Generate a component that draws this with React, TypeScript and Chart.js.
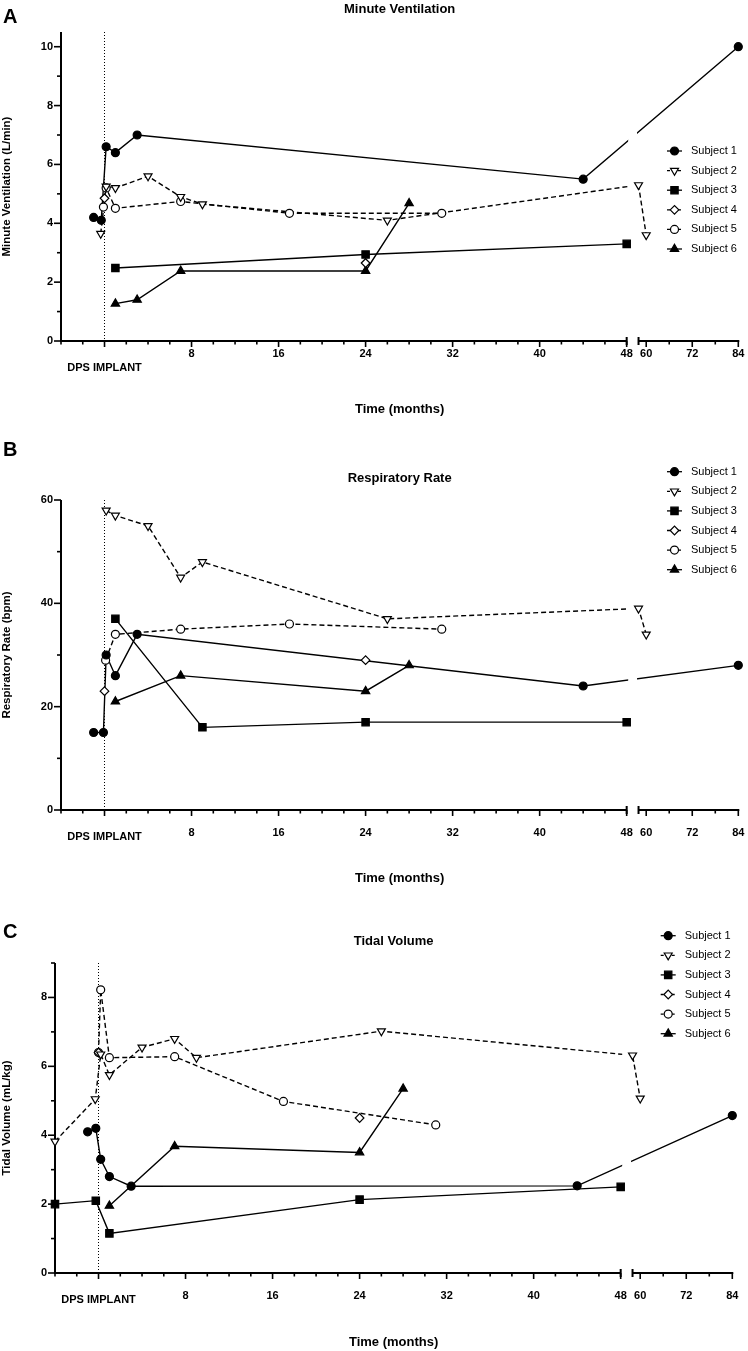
import { useEffect, useRef } from "react";
import { Chart, LinearScale, registerables } from "chart.js";
import { drawPoint } from "chart.js/helpers";

// ---- data (months after DPS implant) ----

// A: minute ventilation (L/min)
const mvS1Months = [-1, -0.3, 0.15, 1, 3, 44, 84];
const mvS1Values = [4.2, 4.1, 6.6, 6.4, 7.0, 5.5, 10.0];
const mvS2Months = [-0.35, 0.15, 1, 4, 7, 9, 26, 58, 60];
const mvS2Values = [3.65, 5.25, 5.2, 5.6, 4.9, 4.65, 4.1, 5.3, 3.6];
const mvS3Months = [1, 24, 48];
const mvS3Values = [2.48, 2.94, 3.3];
const mvS4Months = [0, 24];
const mvS4Values = [4.85, 2.65];
const mvS5Months = [-0.1, 0.15, 1, 7, 17, 31];
const mvS5Values = [4.55, 5.2, 4.51, 4.74, 4.34, 4.34];
const mvS6Months = [1, 3, 7, 24, 28];
const mvS6Values = [1.27, 1.4, 2.38, 2.38, 4.68];

// B: respiratory rate (bpm)
const rrS1Months = [-1, -0.1, 0.15, 1, 3, 44, 84];
const rrS1Values = [15, 15, 30, 26, 34, 24, 28];
const rrS2Months = [0.15, 1, 4, 7, 9, 26, 58, 60];
const rrS2Values = [58, 57, 55, 45, 48, 37, 39, 34];
const rrS3Months = [1, 9, 24, 48];
const rrS3Values = [37, 16, 17, 17];
const rrS4Months = [0, 24];
const rrS4Values = [23, 29];
const rrS5Months = [0.1, 1, 7, 17, 31];
const rrS5Values = [29, 34, 35, 36, 35];
const rrS6Months = [1, 7, 24, 28];
const rrS6Values = [21, 26, 23, 28];

// C: tidal volume (mL/kg)
const tvS1Months = [-1, -0.25, 0.2, 1, 3, 44, 84];
const tvS1Values = [4.1, 4.2, 3.3, 2.8, 2.52, 2.53, 4.57];
const tvS2Months = [-4, -0.3, 0.2, 1, 4, 7, 9, 26, 58, 60];
const tvS2Values = [3.82, 5.05, 6.35, 5.75, 6.55, 6.8, 6.25, 7.02, 6.32, 5.07];
const tvS3Months = [-4, -0.25, 1, 24, 48];
const tvS3Values = [2.0, 2.1, 1.15, 2.13, 2.5];
const tvS4Months = [0, 24];
const tvS4Values = [6.4, 4.5];
const tvS5Months = [0, 0.2, 1, 7, 17, 31];
const tvS5Values = [6.4, 8.22, 6.25, 6.28, 4.98, 4.3];
const tvS6Months = [1, 7, 24, 28];
const tvS6Values = [1.95, 3.68, 3.5, 5.35];

const subjectNames = ["Subject 1", "Subject 2", "Subject 3", "Subject 4", "Subject 5", "Subject 6"];
const subjectConnected = [true, true, true, false, true, true];

// x axis ticks (broken axis: -4..48 | 58..84)
const monthTicks = [
  -4, -2, 0, 2, 4, 6, 8, 10, 12, 14, 16, 18, 20, 22, 24, 26, 28, 30, 32, 34, 36, 38, 40, 42, 44, 46, 48,
  60, 66, 72, 78, 84,
];
const monthLabels = [8, 16, 24, 32, 40, 48, 60, 72, 84];
const monthMajor = [0, 8, 16, 24, 32, 40, 48, 60, 72, 84];

const mvTicks = [0, 1, 2, 3, 4, 5, 6, 7, 8, 9, 10];
const mvLabels = [0, 2, 4, 6, 8, 10];
const rrTicks = [0, 10, 20, 30, 40, 50, 60];
const rrLabels = [0, 20, 40, 60];
const tvTicks = [0, 1, 2, 3, 4, 5, 6, 7, 8, 9];
const tvLabels = [0, 2, 4, 6, 8];

// ---- broken x scale ----
const X_MIN = -4;
const X_MAX = 84;
const LEFT_END = 48;
const RIGHT_START = 58;
const LEFT_SHARE = 0.8352;
const GAP_SHARE = 0.0175;

class BrokenLinearScale extends LinearScale {
  static id = "brokenLinear";
  static defaults = {};

  toDecimal(v: number) {
    const min = this.min;
    const max = this.max;
    if (v <= LEFT_END) return ((v - min) / (LEFT_END - min)) * LEFT_SHARE;
    if (v >= RIGHT_START)
      return LEFT_SHARE + GAP_SHARE + ((v - RIGHT_START) / (max - RIGHT_START)) * (1 - LEFT_SHARE - GAP_SHARE);
    return LEFT_SHARE + ((v - LEFT_END) / (RIGHT_START - LEFT_END)) * GAP_SHARE;
  }

  getPixelForValue(value: number) {
    if (value === null || value === undefined || Number.isNaN(value)) return NaN;
    return this.getPixelForDecimal(this.toDecimal(value));
  }

  getValueForPixel(pixel: number) {
    const d = this.getDecimalForPixel(pixel);
    const min = this.min;
    const max = this.max;
    if (d <= LEFT_SHARE) return min + (d / LEFT_SHARE) * (LEFT_END - min);
    if (d >= LEFT_SHARE + GAP_SHARE)
      return RIGHT_START + ((d - LEFT_SHARE - GAP_SHARE) / (1 - LEFT_SHARE - GAP_SHARE)) * (max - RIGHT_START);
    return LEFT_END + ((d - LEFT_SHARE) / GAP_SHARE) * (RIGHT_START - LEFT_END);
  }
}

Chart.register(...registerables, BrokenLinearScale);

const FONT = "'Liberation Sans', Arial, Helvetica, sans-serif";
Chart.defaults.font.family = FONT;
Chart.defaults.color = "#000";

const MARKERS = [
  { style: "circle", radius: 4, rotation: 0, filled: true, dashed: false },
  { style: "triangle", radius: 4.6, rotation: 180, filled: false, dashed: true },
  { style: "rect", radius: 5.2, rotation: 0, filled: true, dashed: false },
  { style: "rectRot", radius: 4.3, rotation: 0, filled: false, dashed: true },
  { style: "circle", radius: 4, rotation: 0, filled: false, dashed: true },
  { style: "triangle", radius: 4.8, rotation: 0, filled: true, dashed: false },
];

type Series = { months: number[]; values: number[] };

type Panel = {
  key: string;
  letter: string;
  title: string;
  yTitle: string;
  yMax: number;
  yTicks: number[];
  yLabels: number[];
  series: Series[];
  height: number;
  yAxisWidth: number;
  rightPad: number;
  titlePad: { top: number; bottom: number };
  xAxisHeight: number;
  xTitlePad: number;
  xLabelLine: string;
  letterBaseline: number;
  legendX: number;
  legendY: number;
};

const PANELS: Panel[] = [
  {
    key: "mv",
    letter: "A",
    title: "Minute Ventilation",
    yTitle: "Minute Ventilation (L/min)",
    yMax: 10.5,
    yTicks: mvTicks,
    yLabels: mvLabels,
    series: [
      { months: mvS1Months, values: mvS1Values },
      { months: mvS2Months, values: mvS2Values },
      { months: mvS3Months, values: mvS3Values },
      { months: mvS4Months, values: mvS4Values },
      { months: mvS5Months, values: mvS5Values },
      { months: mvS6Months, values: mvS6Values },
    ],
    height: 440,
    yAxisWidth: 61,
    rightPad: 9.7,
    titlePad: { top: 1.2, bottom: 15.2 },
    xAxisHeight: 99,
    xTitlePad: 23.2,
    xLabelLine: "26px",
    letterBaseline: 23,
    legendX: 667,
    legendY: 151,
  },
  {
    key: "rr",
    letter: "B",
    title: "Respiratory Rate",
    yTitle: "Respiratory Rate (bpm)",
    yMax: 60,
    yTicks: rrTicks,
    yLabels: rrLabels,
    series: [
      { months: rrS1Months, values: rrS1Values },
      { months: rrS2Months, values: rrS2Values },
      { months: rrS3Months, values: rrS3Values },
      { months: rrS4Months, values: rrS4Values },
      { months: rrS5Months, values: rrS5Values },
      { months: rrS6Months, values: rrS6Values },
    ],
    height: 450,
    yAxisWidth: 61,
    rightPad: 9.7,
    titlePad: { top: 30.2, bottom: 14.2 },
    xAxisHeight: 80,
    xTitlePad: 4.2,
    xLabelLine: "45px",
    letterBaseline: 15.5,
    legendX: 667,
    legendY: 31.7,
  },
  {
    key: "tv",
    letter: "C",
    title: "Tidal Volume",
    yTitle: "Tidal Volume (mL/kg)",
    yMax: 9,
    yTicks: tvTicks,
    yLabels: tvLabels,
    series: [
      { months: tvS1Months, values: tvS1Values },
      { months: tvS2Months, values: tvS2Values },
      { months: tvS3Months, values: tvS3Values },
      { months: tvS4Months, values: tvS4Values },
      { months: tvS5Months, values: tvS5Values },
      { months: tvS6Months, values: tvS6Values },
    ],
    height: 461,
    yAxisWidth: 55,
    rightPad: 15.7,
    titlePad: { top: 43.9, bottom: 13.5 },
    xAxisHeight: 78,
    xTitlePad: 1.2,
    xLabelLine: "45px",
    letterBaseline: 48.3,
    legendX: 660.7,
    legendY: 45.7,
  },
];

const LEGEND_STEP = 19.6;
const DPS_OFFSET = 26.5;

// axes with the break, implant line, gap through the data lines, legend and panel letter
const makeDecor = (p: Panel) => {
  let gapDone = false;
  return {
    id: "panelDecor",
    beforeDatasetsDraw(chart: any) {
      gapDone = false;
      const { ctx, chartArea } = chart;
      const xs = chart.scales.x;
      const ys = chart.scales.y;
      const bottom = chartArea.bottom;
      const left = chartArea.left;
      ctx.save();

      // dotted DPS implant line
      ctx.strokeStyle = "#000";
      ctx.lineWidth = 1;
      ctx.setLineDash([1, 2]);
      ctx.beginPath();
      ctx.moveTo(xs.getPixelForValue(0), chartArea.top);
      ctx.lineTo(xs.getPixelForValue(0), bottom);
      ctx.stroke();
      ctx.setLineDash([]);

      // y axis
      ctx.lineWidth = 2;
      ctx.beginPath();
      ctx.moveTo(left, chartArea.top);
      ctx.lineTo(left, bottom + 1);
      ctx.stroke();
      ctx.lineWidth = 1.6;
      p.yTicks.forEach((v) => {
        const y = ys.getPixelForValue(v);
        const len = p.yLabels.includes(v) ? 7 : 4;
        ctx.beginPath();
        ctx.moveTo(left, y);
        ctx.lineTo(left - len, y);
        ctx.stroke();
      });

      // x axis, two pieces
      const xEnd = xs.getPixelForValue(LEFT_END);
      const xStart = xs.getPixelForValue(RIGHT_START);
      ctx.lineWidth = 2;
      ctx.beginPath();
      ctx.moveTo(left - 1, bottom);
      ctx.lineTo(xEnd, bottom);
      ctx.moveTo(xStart, bottom);
      ctx.lineTo(xs.getPixelForValue(X_MAX) + 1, bottom);
      ctx.stroke();
      ctx.beginPath();
      ctx.moveTo(xEnd, bottom - 4);
      ctx.lineTo(xEnd, bottom + 4);
      ctx.moveTo(xStart, bottom - 4);
      ctx.lineTo(xStart, bottom + 4);
      ctx.stroke();
      ctx.lineWidth = 1.6;
      monthTicks.forEach((v) => {
        const x = xs.getPixelForValue(v);
        const len = monthMajor.includes(v) ? 6 : 3.5;
        ctx.beginPath();
        ctx.moveTo(x, bottom);
        ctx.lineTo(x, bottom + len);
        ctx.stroke();
      });
      ctx.restore();
    },
    beforeDatasetDraw(chart: any, args: any) {
      const ds = chart.data.datasets[args.index];
      if (ds.kind !== "points" || gapDone) return;
      gapDone = true;
      const { ctx, chartArea } = chart;
      const xs = chart.scales.x;
      const x0 = xs.getPixelForValue(LEFT_END) + 1.5;
      const x1 = xs.getPixelForValue(RIGHT_START) - 1.5;
      ctx.save();
      ctx.fillStyle = "#fff";
      ctx.fillRect(x0, chartArea.top - 6, x1 - x0, chartArea.bottom - chartArea.top + 4);
      ctx.restore();
    },
    afterDraw(chart: any) {
      const { ctx, chartArea } = chart;
      const xs = chart.scales.x;
      ctx.save();
      ctx.fillStyle = "#000";

      ctx.font = `bold 20px ${FONT}`;
      ctx.textAlign = "left";
      ctx.textBaseline = "alphabetic";
      ctx.fillText(p.letter, 3, p.letterBaseline);

      ctx.font = `bold 11px ${FONT}`;
      ctx.textAlign = "center";
      ctx.textBaseline = "middle";
      ctx.fillText("DPS IMPLANT", xs.getPixelForValue(0), chartArea.bottom + DPS_OFFSET);

      subjectNames.forEach((name, i) => {
        const m = MARKERS[i];
        const y = p.legendY + i * LEGEND_STEP;
        ctx.strokeStyle = "#000";
        ctx.lineWidth = 1.3;
        ctx.setLineDash(m.dashed ? [3, 2.5] : []);
        ctx.beginPath();
        ctx.moveTo(p.legendX, y);
        ctx.lineTo(p.legendX + 15, y);
        ctx.stroke();
        ctx.setLineDash([]);
        ctx.fillStyle = m.filled ? "#000" : "#fff";
        ctx.lineWidth = 1.2;
        drawPoint(ctx, { pointStyle: m.style, radius: m.radius, rotation: m.rotation, borderWidth: 1.2 } as any, p.legendX + 7.5, y);
        ctx.fillStyle = "#000";
        ctx.font = `11px ${FONT}`;
        ctx.textAlign = "left";
        ctx.textBaseline = "middle";
        ctx.fillText(name, p.legendX + 24, y);
      });
      ctx.restore();
    },
  };
};

const buildDatasets = (p: Panel) => {
  const points = p.series.map((s, i) => {
    const m = MARKERS[i];
    return {
      kind: "points",
      label: subjectNames[i],
      data: s.months.map((x, j) => ({ x, y: s.values[j] })),
      showLine: false,
      pointStyle: m.style,
      pointRadius: m.radius,
      pointHoverRadius: m.radius,
      pointRotation: m.rotation,
      pointBackgroundColor: m.filled ? "#000" : "#fff",
      pointBorderColor: "#000",
      pointBorderWidth: 1.2,
      clip: false,
      order: 1,
    };
  });
  const lines = p.series.map((s, i) => ({
    kind: "line",
    label: subjectNames[i],
    data: s.months.map((x, j) => ({ x, y: s.values[j] })),
    showLine: subjectConnected[i],
    borderColor: "#000",
    borderWidth: 1.4,
    borderDash: MARKERS[i].dashed ? [5, 3] : [],
    pointRadius: 0,
    pointHoverRadius: 0,
    tension: 0,
    fill: false,
    order: 2,
  }));
  return [...points, ...lines];
};

const PanelChart = ({ panel }: { panel: Panel }) => {
  const chartRef = useRef<HTMLCanvasElement | null>(null);

  useEffect(() => {
    if (!chartRef.current) return;
    const p = panel;
    const chart = new Chart(chartRef.current, {
      type: "line",
      data: { datasets: buildDatasets(p) as any },
      options: {
        responsive: true,
        maintainAspectRatio: false,
        animation: false,
        events: [],
        layout: { padding: { left: 0, right: p.rightPad, top: 0, bottom: 0 } },
        plugins: {
          legend: { display: false },
          tooltip: { enabled: false },
          title: {
            display: true,
            text: p.title,
            fullSize: false,
            color: "#000",
            font: { size: 13, weight: "bold" },
            padding: p.titlePad,
          },
        },
        scales: {
          x: {
            type: "brokenLinear" as any,
            position: "bottom",
            min: X_MIN,
            max: X_MAX,
            grid: { display: false, drawTicks: false },
            border: { display: false },
            afterBuildTicks: (s: any) => {
              s.ticks = monthTicks.map((v) => ({ value: v }));
            },
            afterFit: (s: any) => {
              s.height = p.xAxisHeight;
            },
            ticks: {
              autoSkip: false,
              maxRotation: 0,
              minRotation: 0,
              padding: 0,
              color: "#000",
              // tall line box pushes the labels down without widening the side padding
              font: { size: 11, weight: "bold", lineHeight: p.xLabelLine },
              callback: (v: any) => (monthLabels.includes(Number(v)) ? String(v) : ""),
            },
            title: {
              display: true,
              text: "Time (months)",
              color: "#000",
              font: { size: 13, weight: "bold" },
              padding: { top: 0, bottom: p.xTitlePad },
            },
          } as any,
          y: {
            min: 0,
            max: p.yMax,
            grid: { display: false, drawTicks: false },
            border: { display: false },
            afterBuildTicks: (s: any) => {
              s.ticks = p.yTicks.map((v) => ({ value: v }));
            },
            afterFit: (s: any) => {
              s.width = p.yAxisWidth;
            },
            ticks: {
              autoSkip: false,
              padding: 8,
              color: "#000",
              font: { size: 11, weight: "bold" },
              callback: (v: any) => (p.yLabels.includes(Number(v)) ? String(v) : ""),
            },
            title: {
              display: true,
              text: p.yTitle,
              color: "#000",
              font: { size: 11.5, weight: "bold" },
              padding: { top: 0, bottom: 0 },
            },
          },
        },
      },
      plugins: [makeDecor(p)],
    });

    return () => {
      chart.destroy();
    };
  }, [panel]);

  return (
    <div style={{ position: "relative", width: 748, height: panel.height }}>
      <canvas ref={chartRef}></canvas>
    </div>
  );
};

const App = () => {
  useEffect(() => {
    document.body.style.margin = "0";
  }, []);

  return (
    <div style={{ width: 748, background: "#fff" }}>
      {PANELS.map((p) => (
        <PanelChart key={p.key} panel={p} />
      ))}
    </div>
  );
};

export default App;
